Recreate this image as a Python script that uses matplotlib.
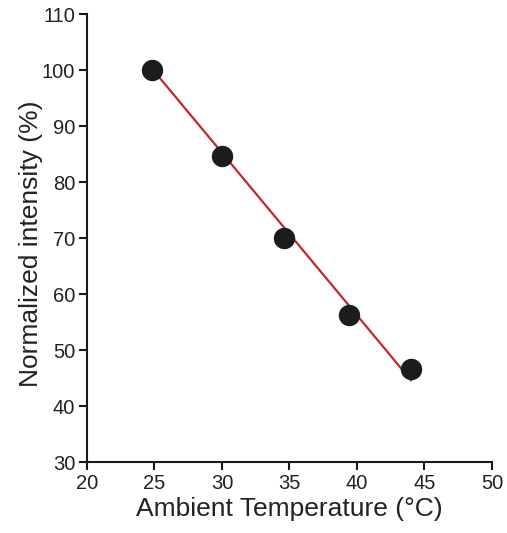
import matplotlib.pyplot as plt

plt.rcParams['font.family'] = ['Liberation Sans', 'DejaVu Sans']

# data
temp = [24.8, 30.0, 34.6, 39.4, 44.0]
intensity = [100.0, 84.6, 70.0, 56.3, 46.6]
fit_x = [24.8, 44.0]
fit_y = [100.3, 44.6]

fig = plt.figure(figsize=(5.07, 5.33), dpi=100)
ax = fig.add_axes([0.1716, 0.1332, 0.7988, 0.8405])

ax.plot(fit_x, fit_y, color='#c0282d', linewidth=1.6, zorder=2)
ax.plot(temp, intensity, 'o', color='#1c1c1c', markersize=14.4, zorder=3)

ax.set_xlim(20, 50)
ax.set_ylim(30, 110)
ax.set_xticks(range(20, 51, 5))
ax.set_yticks(range(30, 111, 10))

for s in ['top', 'right']:
    ax.spines[s].set_visible(False)
for s in ['left', 'bottom']:
    ax.spines[s].set_linewidth(1.5)
    ax.spines[s].set_color('#1a1a1a')

ax.tick_params(direction='out', length=6, width=1.5, color='#1a1a1a',
               labelsize=14.5, labelcolor='#222222', pad=2.5)
ax.set_xlabel('Ambient Temperature (°C)', fontsize=19, color='#222222')
ax.set_ylabel('Normalized intensity (%)', fontsize=19, color='#222222')
ax.xaxis.set_label_coords(0.5, -0.078)
ax.yaxis.set_label_coords(-0.108, 0.487)

fig.savefig('out.png', dpi=100)
